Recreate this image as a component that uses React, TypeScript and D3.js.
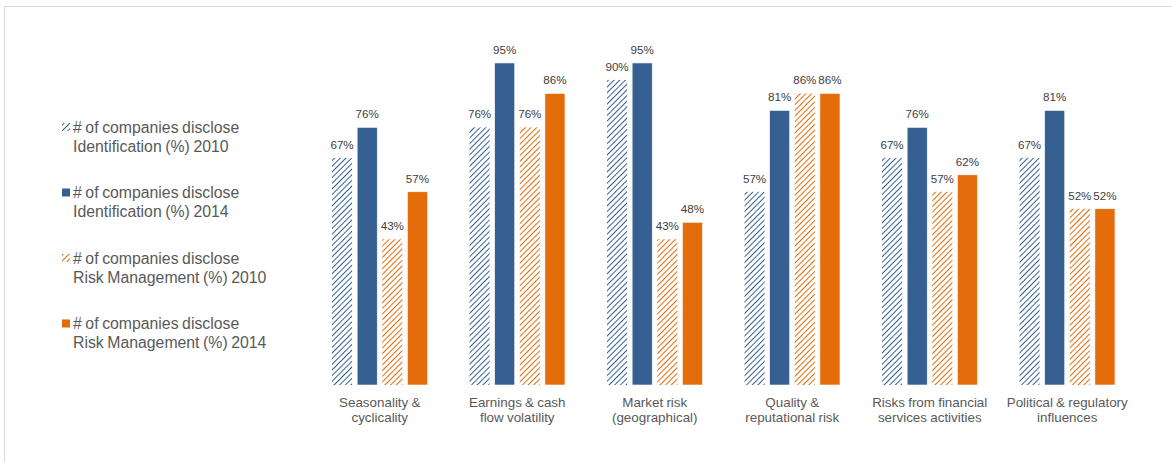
import React from "react";
import * as d3 from "d3";

const categories = [
  ["Seasonality &", "cyclicality"],
  ["Earnings & cash", "flow volatility"],
  ["Market risk", "(geographical)"],
  ["Quality &", "reputational risk"],
  ["Risks from financial", "services activities"],
  ["Political & regulatory", "influences"],
];

const seriesNames = [
  ["# of companies disclose", "Identification (%) 2010"],
  ["# of companies disclose", "Identification (%) 2014"],
  ["# of companies disclose", "Risk Management (%) 2010"],
  ["# of companies disclose", "Risk Management (%) 2014"],
];

const identification2010 = [67, 76, 90, 57, 67, 67];
const identification2014 = [76, 95, 95, 81, 76, 81];
const riskMgmt2010 = [43, 76, 43, 86, 57, 52];
const riskMgmt2014 = [57, 86, 48, 86, 62, 52];

const series = [identification2010, identification2014, riskMgmt2010, riskMgmt2014];

const BLUE = "#376092";
const ORANGE = "#E46C0A";
const fills = ["url(#hatchBlue)", BLUE, "url(#hatchOrange)", ORANGE];
const legendColors = [BLUE, BLUE, ORANGE, ORANGE];
const hatched = [true, false, true, false];

const W = 1172;
const H = 462;
const FONT = "'Liberation Sans', Arial, sans-serif";

export default function App() {
  const x0 = d3
    .scaleBand<number>()
    .domain(d3.range(categories.length))
    .range([311, 1136]);
  const x1 = d3
    .scaleBand<number>()
    .domain(d3.range(series.length))
    .range([21, x0.bandwidth() - 21])
    .paddingInner(0.2)
    .paddingOuter(0);
  const y = d3.scaleLinear().domain([0, 100]).range([385, 46]);

  return (
    <svg
      width={W}
      height={H}
      style={{ position: "absolute", left: 0, top: 0, background: "#fff" }}
      fontFamily={FONT}
    >
      <defs>
        <pattern id="hatchBlue" patternUnits="userSpaceOnUse" width={4} height={4} patternTransform="rotate(45)">
          <rect width={4} height={4} fill="#fff" />
          <line x1={0} y1={0} x2={0} y2={4} stroke={BLUE} strokeWidth={2} />
        </pattern>
        <pattern id="hatchOrange" patternUnits="userSpaceOnUse" width={4} height={4} patternTransform="rotate(45)">
          <rect width={4} height={4} fill="#fff" />
          <line x1={0} y1={0} x2={0} y2={4} stroke={ORANGE} strokeWidth={2} />
        </pattern>
      </defs>

      {/* outer frame */}
      <rect x={4.5} y={6.5} width={W + 10} height={H + 10} fill="none" stroke="#d9d9d9" strokeWidth={1} />

      {/* bars */}
      {categories.map((cat, ci) => (
        <g key={ci} transform={`translate(${x0(ci)},0)`}>
          {series.map((s, si) => {
            const v = s[ci];
            const bx = x1(si)!;
            const bw = x1.bandwidth();
            return (
              <g key={si}>
                <rect
                  x={bx}
                  y={y(v)}
                  width={bw}
                  height={y(0) - y(v)}
                  fill={fills[si]}
                  stroke={hatched[si] ? "none" : "#fff"}
                  strokeWidth={0.6}
                />
                <text
                  x={bx + bw / 2}
                  y={y(v) - 9}
                  textAnchor="middle"
                  fontSize={11.6}
                  fill="#404040"
                >
                  {`${v}%`}
                </text>
              </g>
            );
          })}
          {cat.map((line, li) => (
            <text
              key={li}
              x={x0.bandwidth() / 2}
              y={407 + li * 15}
              textAnchor="middle"
              fontSize={13.4}
              wordSpacing={-0.5}
              fill="#595959"
            >
              {line}
            </text>
          ))}
        </g>
      ))}

      {/* legend */}
      {seriesNames.map((name, i) => {
        const top = 127 + i * 65.5;
        return (
          <g key={i}>
            <rect
              x={62}
              y={top - 4}
              width={8}
              height={8}
              fill={hatched[i] ? (i === 0 ? "url(#hatchBlue)" : "url(#hatchOrange)") : legendColors[i]}
            />
            {name.map((line, li) => (
              <text
                key={li}
                x={73}
                y={top + 5.5 + li * 19}
                fontSize={15.8}
                wordSpacing={-0.8}
                fill="#595959"
              >
                {line}
              </text>
            ))}
          </g>
        );
      })}
    </svg>
  );
}
